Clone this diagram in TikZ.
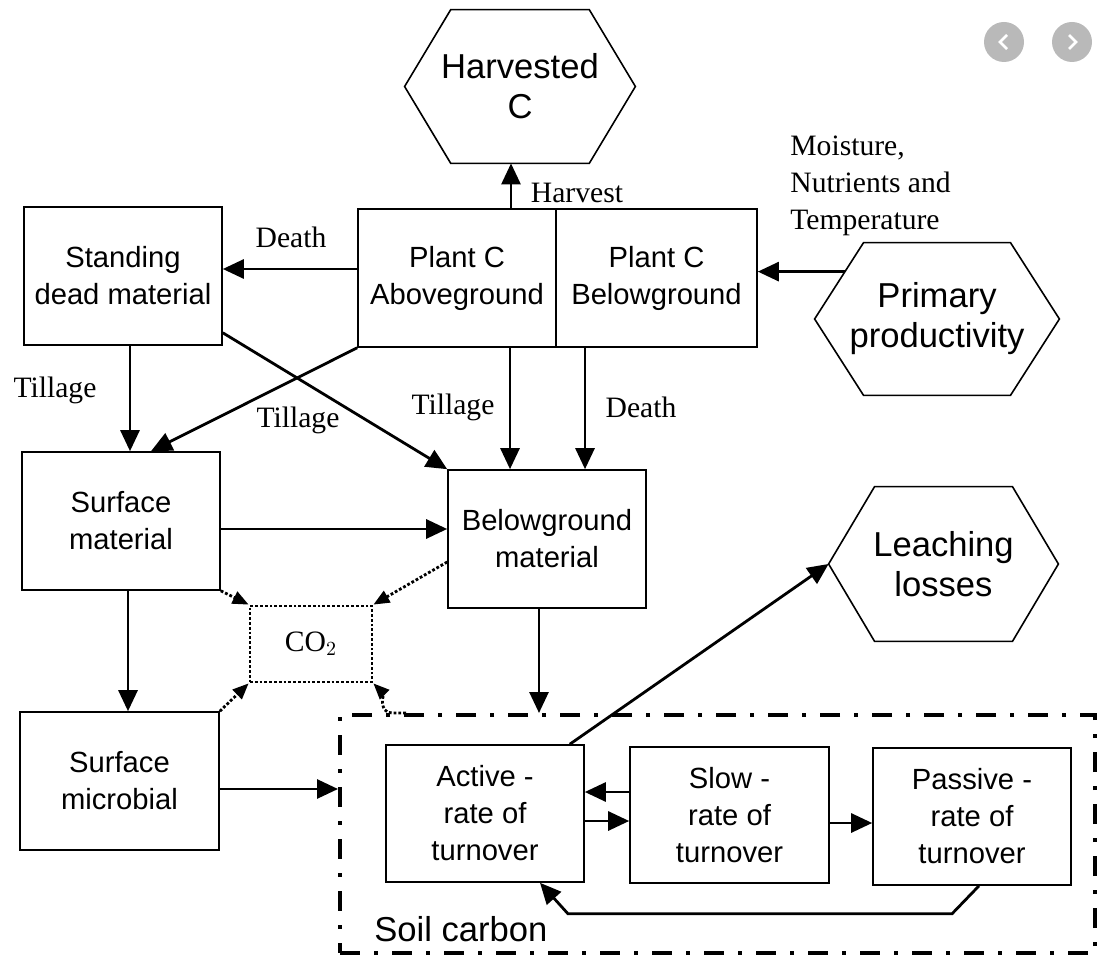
\documentclass[tikz,border=0pt]{standalone}
\usepackage{fontspec}
\setmainfont{Liberation Serif}
\setsansfont{Liberation Sans}
\usetikzlibrary{calc,arrows.meta}

% hexagon outline round a plain node: name, inset of the flat sides
\newcommand{\hexframe}[2]{%
  \coordinate (#1-nw) at ($(#1.north west)!#2!(#1.north east)$);
  \coordinate (#1-ne) at ($(#1.north east)!#2!(#1.north west)$);
  \coordinate (#1-sw) at ($(#1.south west)!#2!(#1.south east)$);
  \coordinate (#1-se) at ($(#1.south east)!#2!(#1.south west)$);
  \draw[line width=0.8pt] (#1.west) -- (#1-nw) -- (#1-ne) -- (#1.east) -- (#1-se) -- (#1-sw) -- cycle;}

\tikzset{
  pool/.style={draw, line width=0.8pt, minimum width=99pt, minimum height=69pt,
    inner sep=0pt, align=center, font=\sffamily\fontsize{14.6}{18.5}\selectfont},
  sink/.style={inner sep=0pt, align=center, font=\sffamily\fontsize{17.3}{20}\selectfont},
  lbl/.style={inner sep=0pt, font=\fontsize{14.8}{18.5}\selectfont},
  flow/.style={-{Triangle[length=10.5pt,width=9.5pt]}, line width=1.4pt},
  resp/.style={-{Triangle[length=8pt,width=6.5pt]}, line width=1.4pt, densely dotted},
  soilbox/.style={draw, line width=2pt, dash pattern=on 10pt off 7pt on 2pt off 7pt}
}

\begin{document}
\begin{tikzpicture}[x=0.5pt, y=-0.5pt]
    \useasboundingbox (0,0) rectangle (1101,961);

    % Sinks and sources
    \node[sink, minimum width=115pt, minimum height=76.5pt] (Harv) at (520,86.5) {Harvested\\C};
    \hexframe{Harv}{0.2}
    \node[sink, minimum width=122pt, minimum height=76pt] (Prim) at (937,319) {Primary\\productivity};
    \hexframe{Prim}{0.2}
    \node[sink, minimum width=114.5pt, minimum height=77pt] (Leach) at (943.5,564) {Leaching\\losses};
    \hexframe{Leach}{0.2}

    % Litter pools
    \node[pool] (Stand) at (123,276) {Standing\\dead material};
    \node[pool] (PlantA) at (457,278) {Plant C\\Aboveground};
    \node[pool, minimum width=100.5pt] (PlantB) at (656.5,278) {Plant C\\Belowground};
    \node[pool] (Surf) at (121,521) {Surface\\material};
    \node[pool] (Below) at (547,539) {Belowground\\material};
    \node[pool, minimum width=99.5pt] (Micro) at (119.5,781) {Surface\\microbial};
    \node[draw, densely dotted, line width=1.4pt, minimum width=61pt, minimum height=38pt,
      inner sep=0pt, lbl] (CO2) at (311,644) {CO$_2$};

    % Soil carbon
    \node[soilbox, minimum width=377.5pt, minimum height=119pt] (Soil) at (717.5,834) {};
    \node[pool, minimum height=68.5pt] (Active) at (485,813.5) {Active -\\rate of\\turnover};
    \node[pool, minimum width=99.5pt, minimum height=68pt] (Slow) at (729.5,815) {Slow -\\rate of\\turnover};
    \node[pool, minimum height=68.5pt] (Passive) at (972,816.5) {Passive -\\rate of\\turnover};
    \node[sink, anchor=west] (SoilLbl) at (374,929) {Soil carbon};

    % Labels
    \node[lbl] (HarvLbl) at (577,193) {Harvest};
    \node[lbl] (DeathA) at (291,237) {Death};
    \node[lbl, align=left, anchor=west] (Climate) at (790,186) {Moisture,\\Nutrients and\\Temperature};
    \node[lbl] (TillA) at (55,390) {Tillage};
    \node[lbl] (TillB) at (298,420) {Tillage};
    \node[lbl] (TillC) at (453,407) {Tillage};
    \node[lbl] (DeathB) at (641,407) {Death};

    % Flows from the plant
    \draw[flow] ([xshift=-4.5pt]Harv.south |- PlantA.north) -- ([xshift=-4.5pt]Harv.south);
    \draw[flow] ([yshift=4.5pt]PlantA.west) -- ([yshift=4.5pt]PlantA.west -| Stand.east);
    \coordinate (pp) at ($(Prim.west)!0.62!(Prim-nw)$);
    \draw[flow] (pp) -- (pp -| PlantB.east);
    \draw[flow] ([xshift=3.5pt]Stand.south) -- ([xshift=3.5pt]Stand.south |- Surf.north);
    \draw[flow] (PlantA.south west) -- ([xshift=15pt]Surf.north);
    \draw[flow] ([yshift=6.5pt]Stand.south east) -- (Below.north west);
    \draw[flow] ([xshift=-18.5pt]Below.north |- PlantA.south) -- ([xshift=-18.5pt]Below.north);
    \draw[flow] ([xshift=19pt]Below.north |- PlantB.south) -- ([xshift=19pt]Below.north);

    % Flows between litter pools
    \draw[flow] ([yshift=-4pt]Surf.east) -- ([yshift=-4pt]Surf.east -| Below.west);
    \draw[flow] ([xshift=3.5pt]Surf.south) -- ([xshift=3.5pt]Surf.south |- Micro.north);
    \draw[flow] ([xshift=-4pt]Below.south) -- ([xshift=-4pt]Below.south |- Soil.north);
    \draw[flow] ([yshift=-4pt]Micro.east) -- ([yshift=-4pt]Micro.east -| Soil.west);

    % Respiration
    \draw[resp] (Surf.south east) -- (CO2.north west);
    \draw[resp] ([yshift=-11.5pt]Below.west) -- (CO2.north east);
    \draw[resp] (Micro.north east) -- (CO2.south west);
    \coordinate (sx) at ([xshift=34pt]Soil.north west);
    \draw[resp] (sx) -- ++(-14,0) to[out=180, in=-45] (CO2.south east);

    % Soil carbon pools
    \draw[flow] ([xshift=-7.5pt]Active.north east) -- (Leach.west);
    \draw[flow] ([yshift=11.5pt]Slow.west) -- ([yshift=11.5pt]Slow.west -| Active.east);
    \draw[flow] ([yshift=-3pt]Slow.west -| Active.east) -- ([yshift=-3pt]Slow.west);
    \draw[flow] ([yshift=-4pt]Slow.east) -- ([yshift=-4pt]Slow.east -| Passive.west);
    \draw[flow] ([xshift=3.5pt]Passive.south) -- ++(-27,28) -- ($(Active.south)+(83,31)$) -- ([xshift=27.5pt]Active.south);

    % Slide buttons
    \node[circle, fill=gray!55, minimum size=20pt] (navL) at (1004,42) {};
    \node[circle, fill=gray!55, minimum size=20pt] (navR) at (1072,42) {};
    \draw[white, line width=1.3pt] ($(navL)+(3,-7)$) -- ($(navL)+(-4,0)$) -- ($(navL)+(3,7)$);
    \draw[white, line width=1.3pt] ($(navR)+(-3,-7)$) -- ($(navR)+(4,0)$) -- ($(navR)+(-3,7)$);
\end{tikzpicture}
\end{document}
